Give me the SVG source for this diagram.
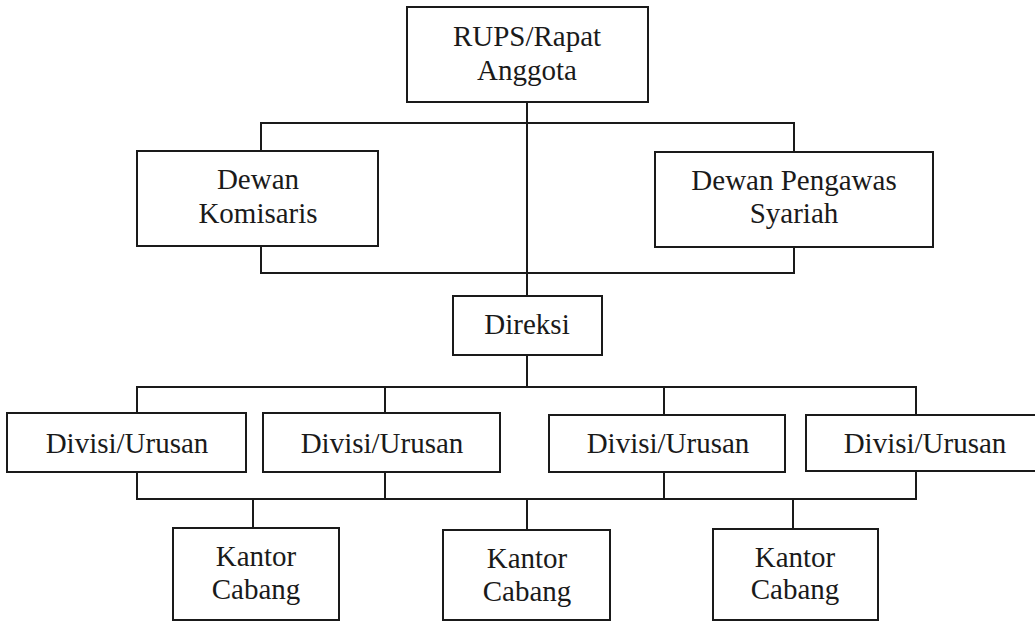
<svg xmlns="http://www.w3.org/2000/svg" width="1035" height="623" viewBox="0 0 1035 623">
<style>
.box{fill:#fff;stroke:#1a1a1a;stroke-width:2}
.ln{fill:none;stroke:#1a1a1a;stroke-width:2}
.t{font-family:'Liberation Serif','DejaVu Serif',serif;font-size:29px;fill:#1a1a1a;text-anchor:middle}
</style>
<rect width="1035" height="623" fill="#fff"/>
<g id="connectors" class="ln">
<path d="M527 102V296"/>
<path d="M261 151V123H794V152"/>
<path d="M261 246V273H794V247"/>
<path d="M527 355V387"/>
<path d="M137 413V387H916V415"/>
<path d="M385 387V413M664 387V415"/>
<path d="M137 472V499H916V472"/>
<path d="M385 472V499M664 472V499"/>
<path d="M253 499V528M527 499V530M793 499V529"/>
</g>
<g class="t" font-family="Liberation Serif, DejaVu Serif, serif">
<g id="rups"><rect class="box" x="407" y="7" width="241" height="95"/><text x="527" y="46">RUPS/Rapat</text><text x="527" y="80">Anggota</text></g>
<g id="dewan-komisaris"><rect class="box" x="137" y="151" width="241" height="95"/><text x="258" y="189">Dewan</text><text x="258" y="223">Komisaris</text></g>
<g id="dewan-pengawas"><rect class="box" x="655" y="152" width="278" height="95"/><text x="794" y="190">Dewan Pengawas</text><text x="794" y="223">Syariah</text></g>
<g id="direksi"><rect class="box" x="453" y="296" width="149" height="59"/><text x="527" y="334">Direksi</text></g>
<g id="divisi1"><rect class="box" x="7" y="413" width="239" height="59"/><text x="127" y="453">Divisi/Urusan</text></g>
<g id="divisi2"><rect class="box" x="263" y="413" width="237" height="59"/><text x="382" y="453">Divisi/Urusan</text></g>
<g id="divisi3"><rect class="box" x="549" y="415" width="236" height="57"/><text x="668" y="453">Divisi/Urusan</text></g>
<g id="divisi4"><rect class="box" x="806" y="415" width="240" height="56"/><text x="925" y="453">Divisi/Urusan</text></g>
<g id="kantor1"><rect class="box" x="173" y="528" width="166" height="92"/><text x="256" y="566">Kantor</text><text x="256" y="599">Cabang</text></g>
<g id="kantor2"><rect class="box" x="443" y="530" width="167" height="90"/><text x="527" y="568">Kantor</text><text x="527" y="601">Cabang</text></g>
<g id="kantor3"><rect class="box" x="713" y="529" width="165" height="91"/><text x="795" y="567">Kantor</text><text x="795" y="599">Cabang</text></g>
</g>
</svg>
